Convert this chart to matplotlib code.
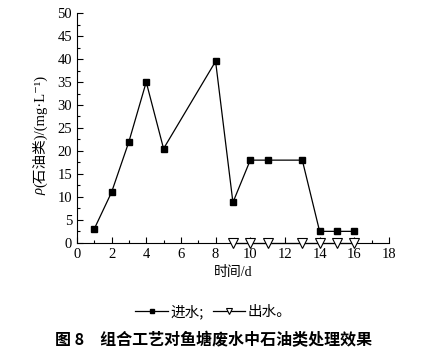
import matplotlib
matplotlib.use('Agg')
import matplotlib.pyplot as plt
from matplotlib.ticker import MultipleLocator

plt.rcParams['font.family'] = ['Liberation Serif', 'Noto Sans CJK SC', 'DejaVu Serif']

# 进水
days_in = [1, 2, 3, 4, 5, 8, 9, 10, 11, 13, 14, 15, 16]
oil_in = [3.0, 11.0, 22.0, 35.0, 20.5, 39.5, 8.8, 18.0, 18.0, 18.0, 2.5, 2.5, 2.5]
# 出水
days_out = [9, 10, 11, 13, 14, 15, 16]
oil_out = [0, 0, 0, 0, 0, 0, 0]

fig = plt.figure(figsize=(4.27, 3.54), dpi=100)
ax = fig.add_axes([0.180, 0.314, 0.731, 0.649])

l1, = ax.plot(days_in, oil_in, color='black', lw=0.9, marker='s', ms=5,
              mfc='black', mec='black', clip_on=False, zorder=3)
l2, = ax.plot(days_out, oil_out, color='black', lw=0.9, marker='v', ms=6.5,
              mfc='white', mec='black', mew=0.8, clip_on=False, zorder=4)

ax.set_xlim(0, 18)
ax.set_ylim(0, 50)
ax.xaxis.set_major_locator(MultipleLocator(2))
ax.xaxis.set_minor_locator(MultipleLocator(1))
ax.yaxis.set_major_locator(MultipleLocator(5))
ax.yaxis.set_minor_locator(MultipleLocator(2.5))
ax.tick_params(which='both', direction='in', labelsize=10.5, width=0.8)
ax.tick_params(which='major', length=4)
ax.tick_params(which='minor', length=2)
ax.spines['top'].set_visible(False)
ax.spines['right'].set_visible(False)

ax.set_xlabel('时间/d', fontsize=10, labelpad=4)

# y label: italic rho followed by the rest, stacked bottom-up
fig.text(0.094, 0.449, 'ρ', rotation=90, fontsize=10.5, style='italic',
         ha='center', va='bottom')
fig.text(0.094, 0.472, '(石油类)/(mg·L⁻¹)', rotation=90, fontsize=10.5,
         ha='center', va='bottom')

fig.legend([l1, l2], ['进水;', '出水。'], loc='center', bbox_to_anchor=(0.5, 0.119),
           ncol=2, frameon=False, handlelength=2.2, handletextpad=0.2,
           columnspacing=0.6, markerscale=0.7,
           prop={'family': ['Noto Sans CJK SC'], 'size': 10.5})

fig.text(0.5, 0.04, '图 8　组合工艺对鱼塘废水中石油类处理效果', ha='center', va='center',
         fontsize=11.5, fontweight='bold', family=['Noto Sans CJK SC'])

fig.savefig('out.png', dpi=100)
